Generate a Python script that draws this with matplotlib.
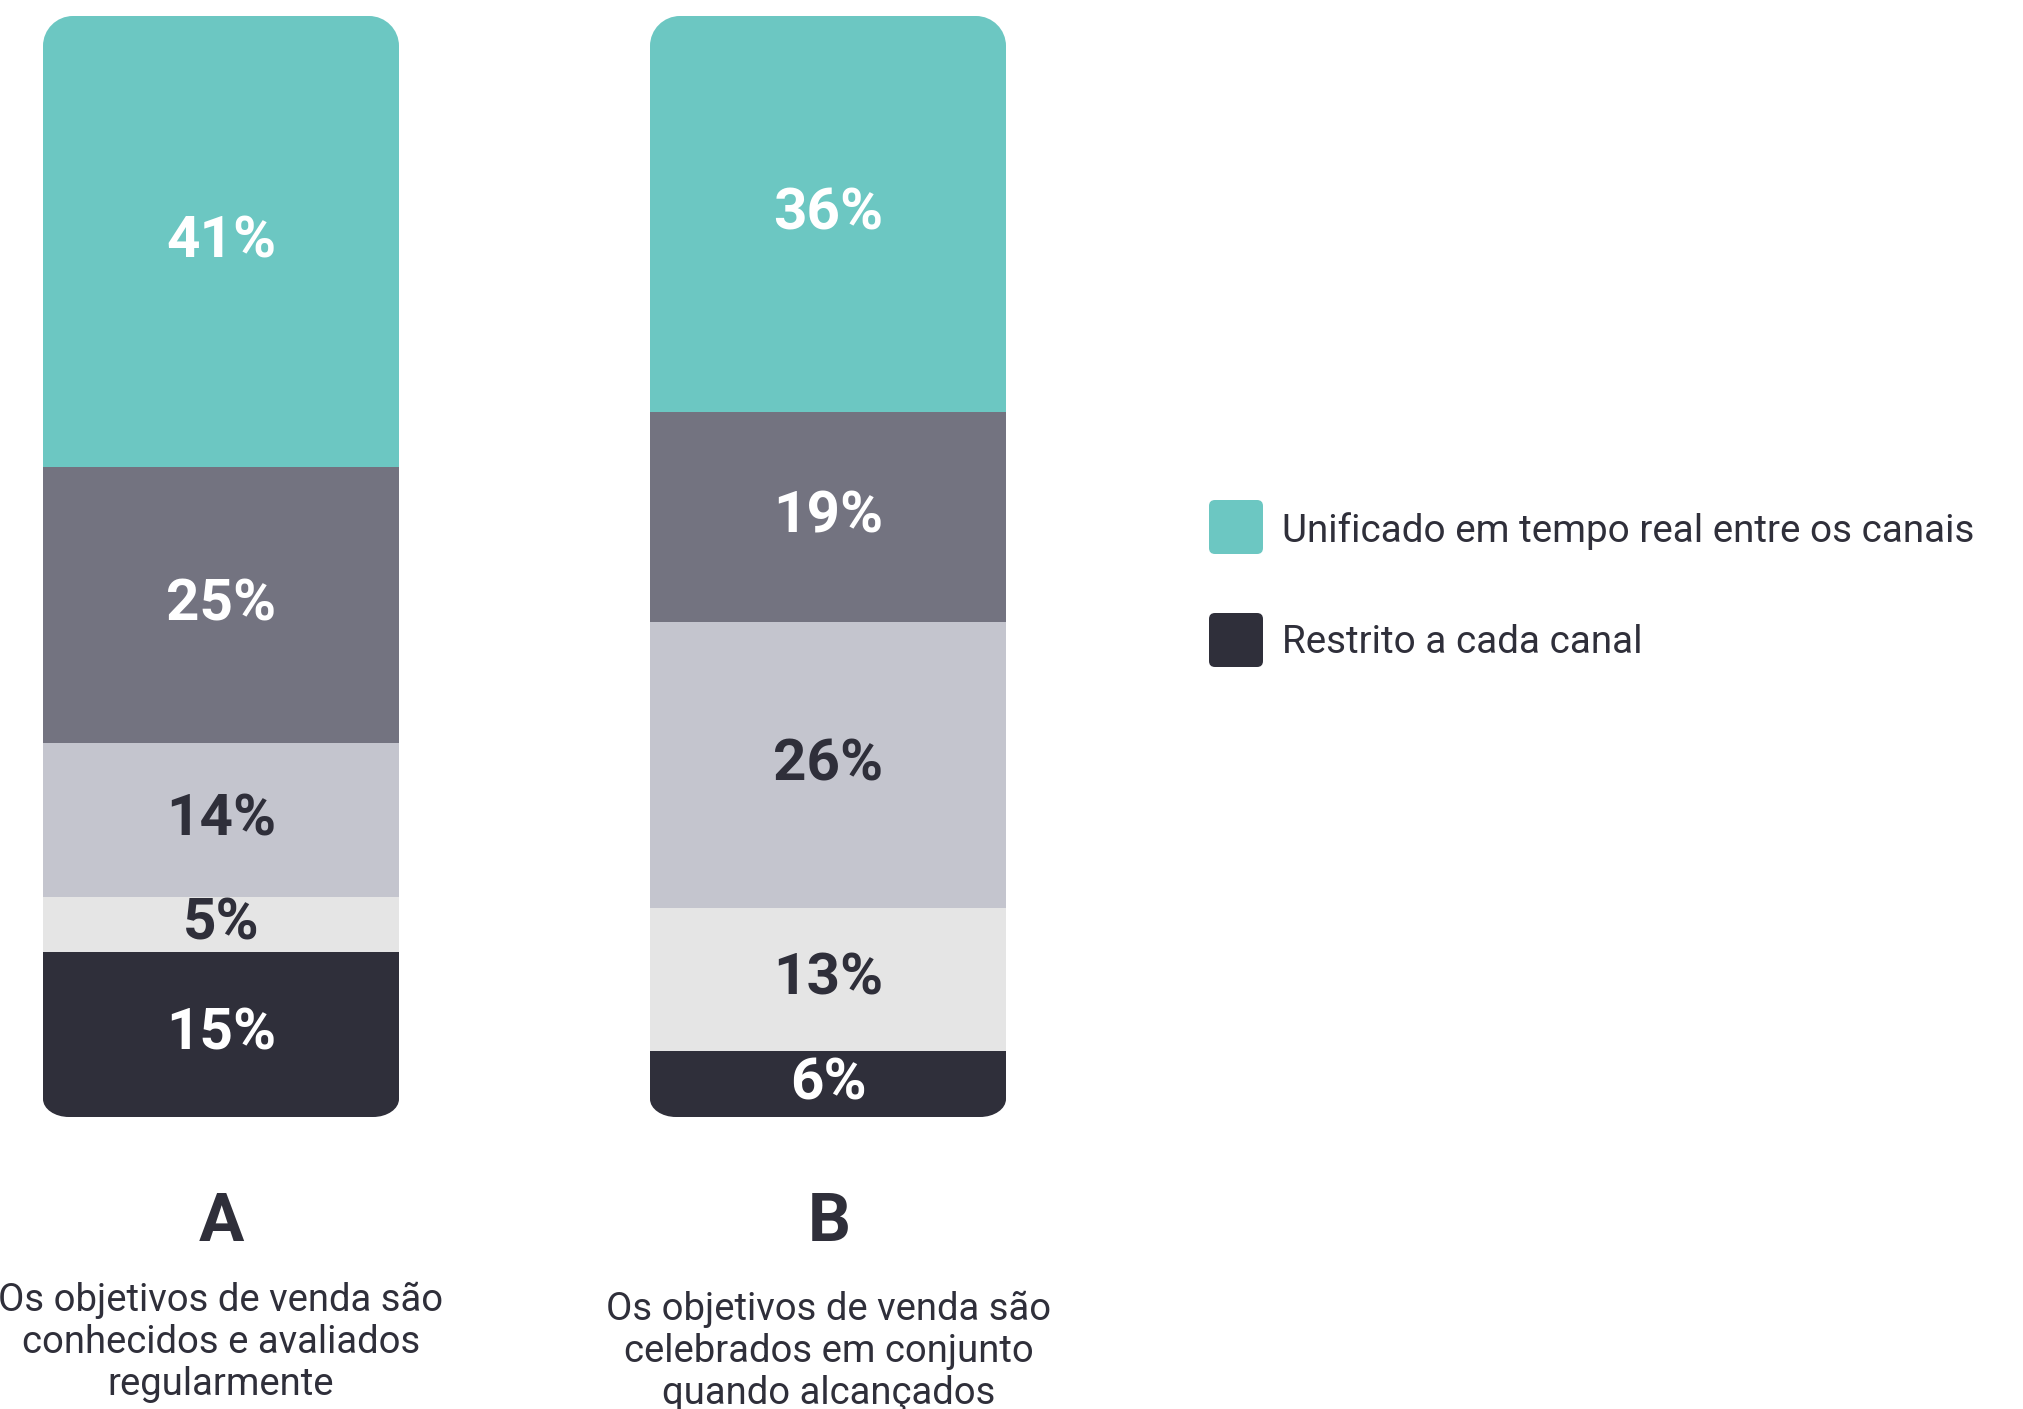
import matplotlib
matplotlib.use("Agg")
import matplotlib.pyplot as plt
import numpy as np
from matplotlib.path import Path
from matplotlib.patches import PathPatch, FancyBboxPatch

# stacked shares, bottom to top, one entry per column (A, B)
groups = ["A", "B"]
restrito = [15, 6]
nivel_2 = [5, 13]
nivel_3 = [14, 26]
nivel_4 = [25, 19]
unificado = [41, 36]

descriptions = [
    ["Os objetivos de venda são", "conhecidos e avaliados", "regularmente"],
    ["Os objetivos de venda são", "celebrados em conjunto", "quando alcançados"],
]
legend_labels = ["Unificado em tempo real entre os canais", "Restrito a cada canal"]

TEAL = "#6CC7C2"
GREY = "#737380"
LIGHT = "#C4C5CE"
PALE = "#E5E5E5"
DARK = "#2F2F3A"

layers = [
    (restrito, DARK, "white"),
    (nivel_2, PALE, DARK),
    (nivel_3, LIGHT, DARK),
    (nivel_4, GREY, "white"),
    (unificado, TEAL, "white"),
]

plt.rcParams["font.family"] = ["Roboto", "DejaVu Sans"]

W, H = 2023, 1409
fig = plt.figure(figsize=(W / 100, H / 100), dpi=100)

# bar axes: 1 x-unit = 607 px, 1 y-unit (percent) = 11.01 px
px_x, px_y = 607.0, 11.01
x0_px, y0_px = 221.0, 1117.0
ax = fig.add_axes([0, 0, 1, 1])
ax.set_xlim(-x0_px / px_x, (W - x0_px) / px_x)
ax.set_ylim((y0_px - H) / px_y, y0_px / px_y)
ax.axis("off")

bar_w = 356 / px_x
xpos = np.arange(len(groups))


def rounded_bar(xc, top, w, rt, rb):
    """Outline of a bar with separate top / bottom corner radii (given in px)."""
    k = 0.5523
    x0, x1, y0, y1 = xc - w / 2, xc + w / 2, 0.0, top
    tx, ty = rt / px_x, rt / px_y
    bx, by = rb[0] / px_x, rb[1] / px_y
    verts = [
        (x0, y0 + by), (x0, y1 - ty),
        (x0, y1 - ty * (1 - k)), (x0 + tx * (1 - k), y1), (x0 + tx, y1),
        (x1 - tx, y1),
        (x1 - tx * (1 - k), y1), (x1, y1 - ty * (1 - k)), (x1, y1 - ty),
        (x1, y0 + by),
        (x1, y0 + by * (1 - k)), (x1 - bx * (1 - k), y0), (x1 - bx, y0),
        (x0 + bx, y0),
        (x0 + bx * (1 - k), y0), (x0, y0 + by * (1 - k)), (x0, y0 + by),
        (x0, y0 + by),
    ]
    codes = ([Path.MOVETO, Path.LINETO] + [Path.CURVE4] * 3 + [Path.LINETO]
             + [Path.CURVE4] * 3 + [Path.LINETO] + [Path.CURVE4] * 3
             + [Path.LINETO] + [Path.CURVE4] * 3 + [Path.CLOSEPOLY])
    return Path(verts, codes)


bottom = np.zeros(len(groups))
totals = np.sum([np.array(v) for v, _, _ in layers], axis=0)
clips = []
for i, xc in enumerate(xpos):
    clip = PathPatch(rounded_bar(xc, totals[i], bar_w, 30, (26, 18)),
                     transform=ax.transData, facecolor="none", edgecolor="none")
    ax.add_patch(clip)
    clips.append(clip)

for vals, color, tcolor in layers:
    vals = np.array(vals, dtype=float)
    bars = ax.bar(xpos, vals, bar_w, bottom=bottom, color=color,
                  linewidth=0, align="center")
    for i, b in enumerate(bars):
        b.set_clip_path(clips[i])
        ax.text(xpos[i], bottom[i] + vals[i] / 2, f"{vals[i]:.0f}%",
                ha="center", va="center", color=tcolor, fontsize=42,
                fontweight="bold")
    bottom += vals

# free text and legend on a pixel-space overlay
ov = fig.add_axes([0, 0, 1, 1], facecolor="none")
ov.set_xlim(0, W)
ov.set_ylim(H, 0)
ov.axis("off")

centers = [221, 829]
for g, cx, lines, base in zip(groups, centers, descriptions, [1311, 1320]):
    ov.text(cx, 1241, g, ha="center", va="baseline", fontsize=48.5,
            fontweight="bold", color=DARK)
    for j, line in enumerate(lines):
        ov.text(cx, base + 42 * j, line, ha="center", va="baseline",
                fontsize=27.5, color=DARK)

for (label, color, top, base) in [(legend_labels[0], TEAL, 500, 542),
                                  (legend_labels[1], DARK, 613, 653)]:
    ov.add_patch(FancyBboxPatch((1209 + 6, top + 6), 54 - 12, 54 - 12,
                                boxstyle="round,pad=6", facecolor=color,
                                edgecolor="none"))
    ov.text(1282, base, label, ha="left", va="baseline", fontsize=27.8,
            color=DARK)

fig.savefig("out.png", dpi=100, facecolor="white")
